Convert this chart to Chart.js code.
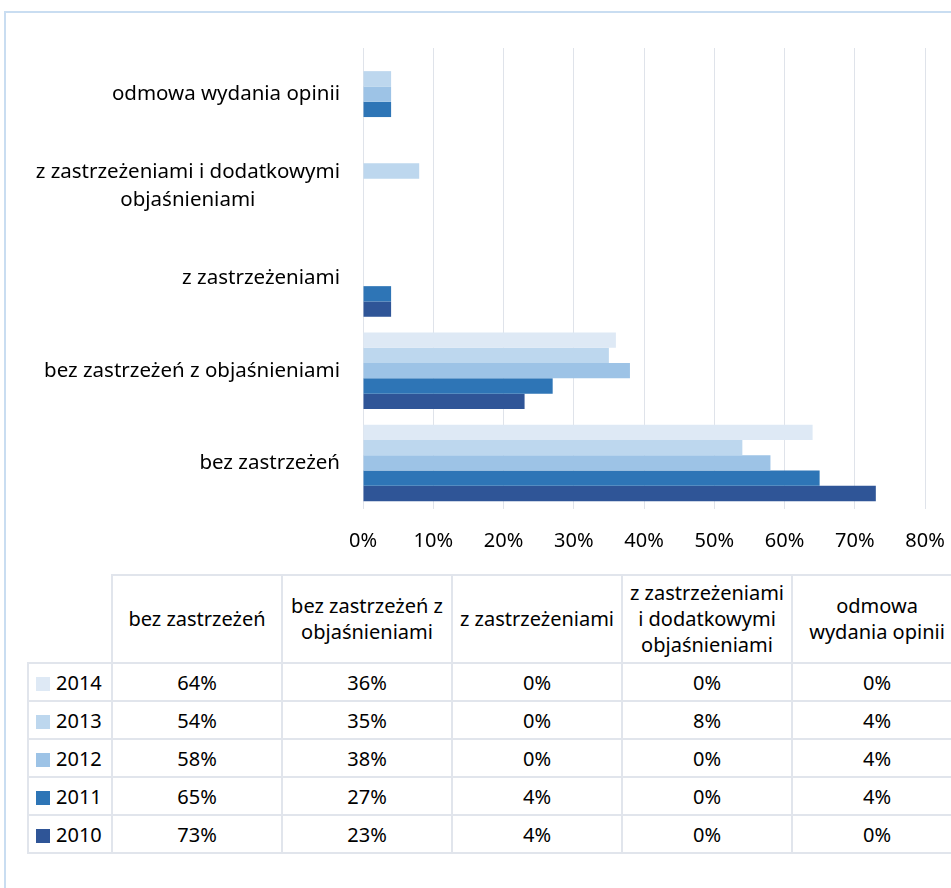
<!DOCTYPE html>
<html lang="pl">
<head>
<meta charset="utf-8">
<title>Rodzaje opinii biegłego rewidenta 2010-2014</title>
<script src="https://cdn.jsdelivr.net/npm/chart.js@4.4.1/dist/chart.umd.min.js"></script>
<style>
  html, body { margin: 0; padding: 0; background: #fff; overflow: hidden; }
  body { width: 951px; height: 888px; position: relative; font-family: "Noto Sans", sans-serif; }
  #frame { position: absolute; left: 4px; top: 11px; width: 1000px; height: 1000px; border: 2px solid #c9ddf1; box-sizing: border-box; }
  #chartBox { position: absolute; left: 0; top: 0; width: 951px; height: 570px; }
  #tableBox { position: absolute; left: 27px; top: 574px; width: 1000px; }
  #dataTable { border-collapse: collapse; table-layout: fixed; font-size: 20px; color: #000; }
  #dataTable td, #dataTable th { border: 2px solid #e1e5ec; text-align: center; font-weight: normal; padding: 0; }
  #dataTable th { height: 86px; line-height: 26px; }
  #dataTable td { height: 36px; }
  #dataTable th.corner { border: none; border-right: 2px solid #e1e5ec; border-bottom: 2px solid #e1e5ec; }
  #dataTable td.year { text-align: left; padding-left: 7px; white-space: nowrap; }
  .swatch { display: inline-block; width: 14px; height: 14px; margin-right: 6px; vertical-align: -1px; }
</style>
</head>
<body>
<div id="frame"></div>
<div id="chartBox"><canvas id="opinieChart" width="951" height="570"></canvas></div>
<div id="tableBox">
<table id="dataTable">
  <colgroup id="cols"></colgroup>
  <thead><tr id="headRow"></tr></thead>
  <tbody id="tableBody"></tbody>
</table>
</div>
<script>
// kategorie opinii (kolejność jak w tabeli)
const categories = ['bez zastrzeżeń', 'bez zastrzeżeń z objaśnieniami', 'z zastrzeżeniami', 'z zastrzeżeniami i dodatkowymi objaśnieniami', 'odmowa wydania opinii'];
// etykiety osi (z podziałem na linie)
const axisLabels = [['bez zastrzeżeń'], ['bez zastrzeżeń z objaśnieniami'], ['z zastrzeżeniami'], ['z zastrzeżeniami i dodatkowymi', 'objaśnieniami'], ['odmowa wydania opinii']];
// nagłówki tabeli
const headerLabels = [['bez zastrzeżeń'], ['bez zastrzeżeń z', 'objaśnieniami'], ['z zastrzeżeniami'], ['z zastrzeżeniami', 'i dodatkowymi', 'objaśnieniami'], ['odmowa', 'wydania opinii']];

const years = ['2014', '2013', '2012', '2011', '2010'];
const v2014 = [64, 36, 0, 0, 0];
const v2013 = [54, 35, 0, 8, 4];
const v2012 = [58, 38, 0, 0, 4];
const v2011 = [65, 27, 4, 0, 4];
const v2010 = [73, 23, 4, 0, 0];
const seriesValues = [v2014, v2013, v2012, v2011, v2010];
const colors = ['#dee9f5', '#bdd7ee', '#9dc3e6', '#2e75b6', '#2f5597'];

const xTicks = [0, 10, 20, 30, 40, 50, 60, 70, 80];

const FONT = '"Noto Sans", sans-serif';

// --- tabela danych pod wykresem ---
const colWidths = [84, 170, 170, 170, 170, 170];
const table = document.getElementById('dataTable');
table.style.width = colWidths.reduce((a, b) => a + b, 0) + 'px';
const cols = document.getElementById('cols');
colWidths.forEach(w => {
    const c = document.createElement('col');
    c.style.width = w + 'px';
    cols.appendChild(c);
});
const headRow = document.getElementById('headRow');
headRow.innerHTML = '<th class="corner"></th>' + headerLabels.map(l => `<th>${l.join('<br>')}</th>`).join('');
const tbody = document.getElementById('tableBody');
years.forEach((y, i) => {
    const cells = seriesValues[i].map(v => `<td>${v}%</td>`).join('');
    tbody.insertAdjacentHTML('beforeend',
        `<tr><td class="year"><span class="swatch" style="background:${colors[i]}"></span>${y}</td>${cells}</tr>`);
});

// etykiety kategorii: blok wyrównany do prawej, linie wyśrodkowane
const categoryLabelPlugin = {
    id: 'categoryLabels',
    afterDraw(chart) {
        const ctx = chart.ctx;
        const yScale = chart.scales.y;
        const right = chart.chartArea.left - 23;
        const lineH = 28;
        ctx.save();
        ctx.font = '20.5px ' + FONT;
        ctx.fillStyle = '#000';
        ctx.textAlign = 'center';
        ctx.textBaseline = 'middle';
        chart.data.labels.forEach((lines, i) => {
            const cy = yScale.getPixelForTick(i);
            const w = Math.max(...lines.map(l => ctx.measureText(l).width));
            const cx = right - w / 2;
            const y0 = cy - (lines.length - 1) * lineH / 2;
            lines.forEach((l, j) => ctx.fillText(l, cx, y0 + j * lineH));
        });
        ctx.restore();
    }
};

// wykres – kategorie od góry: odwrotna kolejność względem tabeli
const chartLabels = axisLabels.slice().reverse();

new Chart(document.getElementById('opinieChart'), {
    type: 'bar',
    data: {
        labels: chartLabels,
        datasets: years.map((y, i) => ({
            label: y,
            data: seriesValues[i].slice().reverse(),
            backgroundColor: colors[i],
            borderWidth: 0,
            categoryPercentage: 0.83,
            barPercentage: 1.0
        }))
    },
    options: {
        indexAxis: 'y',
        responsive: false,
        animation: false,
        layout: { padding: { top: 48, left: 0, right: 26, bottom: 0 } },
        plugins: { legend: { display: false }, tooltip: { enabled: false } },
        scales: {
            x: {
                min: 0, max: 80,
                afterBuildTicks: s => { s.ticks = xTicks.map(v => ({ value: v })); },
                afterFit: s => { s.height = 61; s.paddingRight = 0; s.paddingLeft = 0; },
                grid: { color: '#dfe3ea', lineWidth: 1, drawTicks: false },
                border: { display: false },
                ticks: { padding: 20, color: '#000', font: { family: FONT, size: 20 }, callback: v => v + '%' }
            },
            y: {
                afterFit: s => { s.width = 363; },
                grid: { display: false },
                border: { display: false },
                ticks: { display: false }
            }
        }
    },
    plugins: [categoryLabelPlugin]
});
</script>
</body>
</html>
